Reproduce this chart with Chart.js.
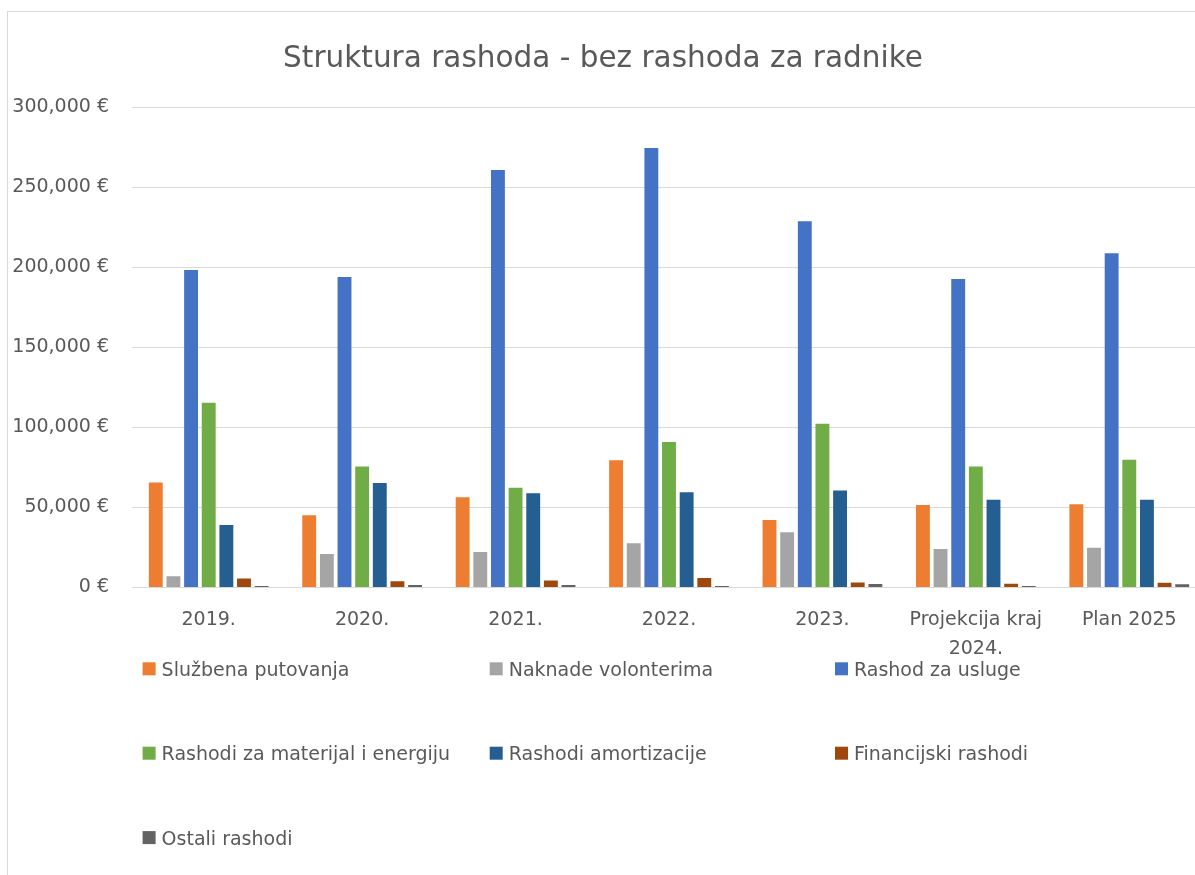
<!DOCTYPE html>
<html>
<head>
<meta charset="utf-8">
<script src="https://cdn.jsdelivr.net/npm/chart.js@4.4.1/dist/chart.umd.min.js"></script>
<style>
  html, body { margin: 0; padding: 0; background: #ffffff; overflow: hidden; width: 1195px; height: 875px; }
  #frame { position: absolute; left: 7px; top: 11px; width: 1400px; height: 1000px; border: 1px solid #d9d9d9; box-sizing: border-box; }
  #wrap { position: absolute; left: 0; top: 0; width: 1215px; height: 875px; }
</style>
</head>
<body>
<div id="frame"></div>
<div id="wrap"><canvas id="c" width="1215" height="875" style="width:1215px;height:875px"></canvas></div>
<script>
const chartTitle = 'Struktura rashoda - bez rashoda za radnike';
const categories = ['2019.', '2020.', '2021.', '2022.', '2023.', ['Projekcija kraj', '2024.'], 'Plan 2025'];
const seriesNames = ['Službena putovanja', 'Naknade volonterima', 'Rashod za usluge', 'Rashodi za materijal i energiju', 'Rashodi amortizacije', 'Financijski rashodi', 'Ostali rashodi'];
const sluzbenaPutovanja   = [65700, 45100, 56400, 79500, 42200, 51600, 52000];
const naknadeVolonterima  = [7000, 20900, 22200, 27600, 34500, 24000, 24900];
const rashodZaUsluge      = [198400, 194000, 261000, 274700, 228900, 192800, 208900];
const rashodiMaterijal    = [115500, 75700, 62400, 91000, 102400, 75700, 79900];
const rashodiAmortizacije = [39000, 65300, 58900, 59500, 60700, 54900, 54900];
const financijskiRashodi  = [5700, 3900, 4300, 5900, 3200, 2400, 3000];
const ostaliRashodi       = [1000, 1500, 1500, 1000, 2200, 1000, 2000];
const yTickValues = [0, 50000, 100000, 150000, 200000, 250000, 300000];

const seriesValues = [sluzbenaPutovanja, naknadeVolonterima, rashodZaUsluge, rashodiMaterijal, rashodiAmortizacije, financijskiRashodi, ostaliRashodi];
const colors = ['#ED7D31', '#A5A5A5', '#4472C4', '#70AD47', '#255E91', '#9E480E', '#636363'];
const FONT = '"DejaVu Sans", sans-serif';
const TEXT = '#595959';

const legendPlugin = {
  id: 'gridLegend',
  afterDraw(chart) {
    const ctx = chart.ctx;
    const colX = [142.6, 489.7, 835];
    const rowY = [662.3, 746.7, 831.1];
    ctx.save();
    ctx.font = '19px ' + FONT;
    ctx.textBaseline = 'alphabetic';
    ctx.textAlign = 'left';
    chart.data.datasets.forEach((ds, i) => {
      const x = colX[i % 3];
      const y = rowY[Math.floor(i / 3)];
      ctx.fillStyle = ds.backgroundColor;
      ctx.fillRect(x, y, 13, 13);
      ctx.fillStyle = TEXT;
      ctx.fillText(ds.label, x + 19, y + 13.7);
    });
    ctx.restore();
  }
};

new Chart(document.getElementById('c'), {
  type: 'bar',
  data: {
    labels: categories,
    datasets: seriesNames.map((name, i) => ({
      label: name,
      data: seriesValues[i],
      backgroundColor: colors[i],
      borderWidth: 0,
      categoryPercentage: 0.805,
      barPercentage: 0.787
    }))
  },
  options: {
    responsive: false,
    animation: false,
    devicePixelRatio: 1,
    layout: { padding: { left: 0, right: 9, top: 0, bottom: 207.5 } },
    plugins: {
      legend: { display: false },
      tooltip: { enabled: false },
      title: {
        display: true,
        text: chartTitle,
        color: TEXT,
        font: { family: FONT, size: 29.5, weight: 'normal', lineHeight: 1.2 },
        padding: { top: 41.3, bottom: 30.8 }
      }
    },
    scales: {
      x: {
        grid: { display: false, drawTicks: false },
        border: { display: false },
        ticks: {
          color: TEXT,
          font: { family: FONT, size: 19, lineHeight: 1.5 },
          padding: 18.5,
          maxRotation: 0,
          autoSkip: false
        },
        afterFit(scale) { scale.height = 80; }
      },
      y: {
        min: 0,
        max: 300000,
        afterBuildTicks(scale) { scale.ticks = yTickValues.map(v => ({ value: v })); },
        grid: { color: '#d9d9d9', lineWidth: 1, drawTicks: false },
        border: { display: false },
        ticks: {
          color: TEXT,
          font: { family: FONT, size: 19 },
          padding: 23,
          callback: (v) => v.toLocaleString('en-US') + ' €'
        },
        afterFit(scale) { scale.width = 132; }
      }
    }
  },
  plugins: [legendPlugin]
});
</script>
</body>
</html>
